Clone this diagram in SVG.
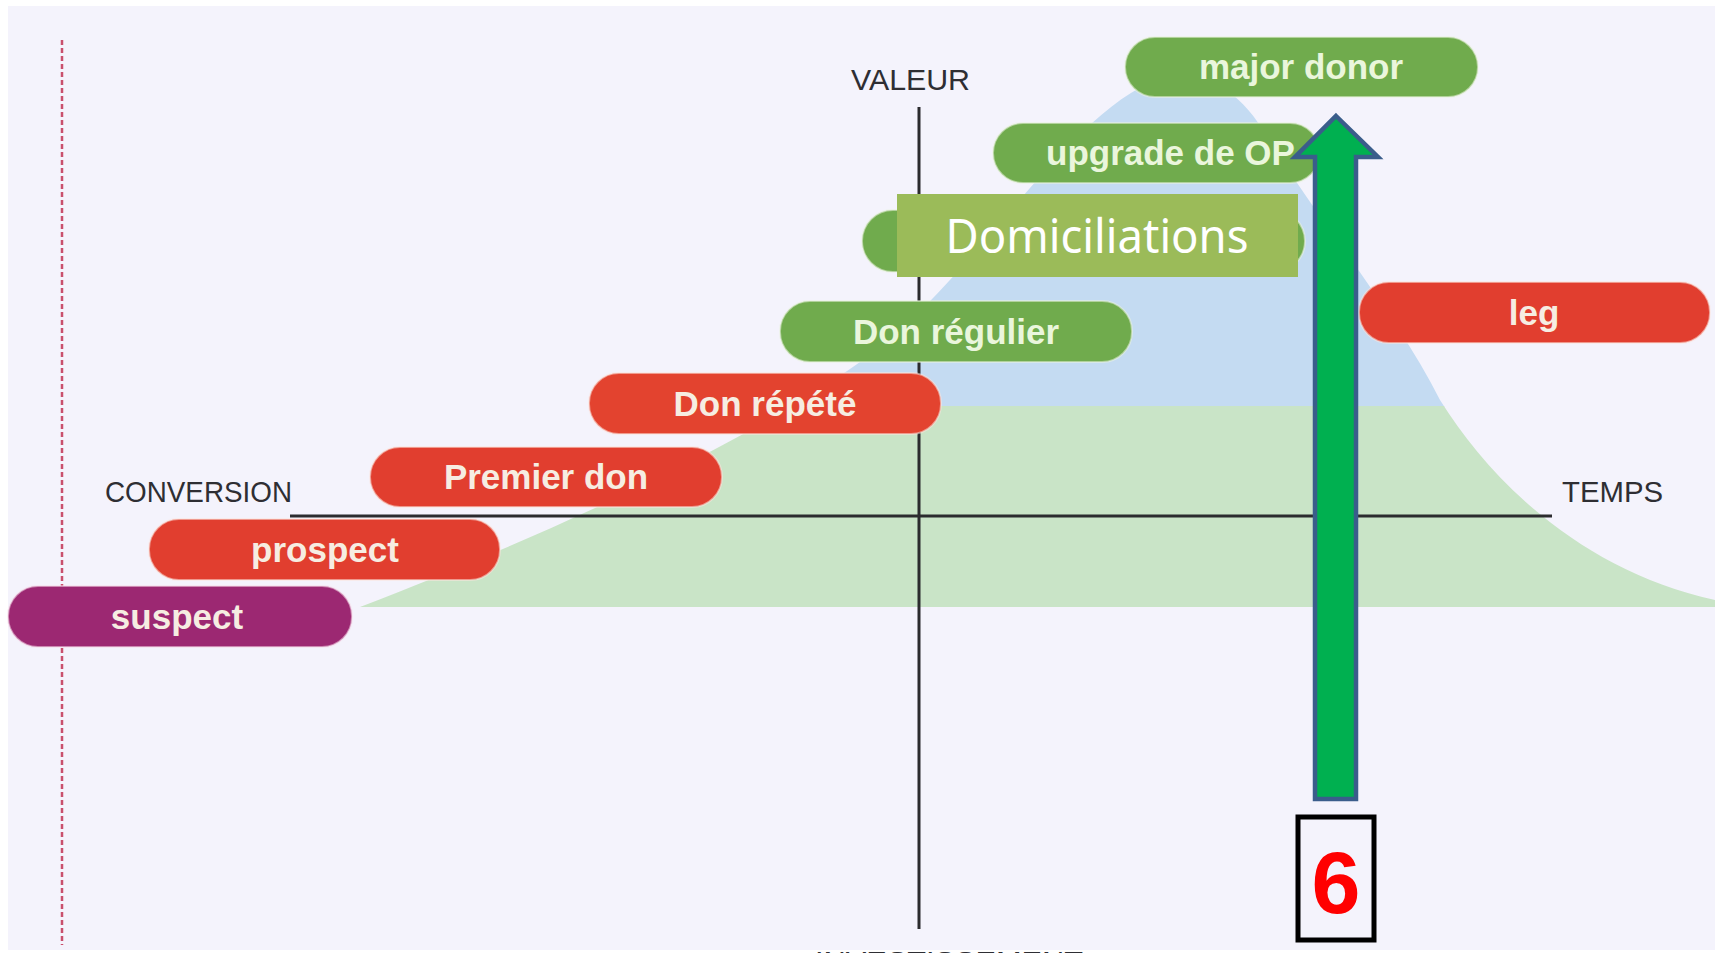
<svg xmlns="http://www.w3.org/2000/svg" width="1715" height="953" viewBox="0 0 1715 953">
  <defs>
    <style>
      .axis { stroke: #2b2b2e; stroke-width: 3; fill: none; }
      .axlbl { font-family: "Liberation Sans", Arial, sans-serif; font-size: 30px; fill: #2e2e33; }
      .pill-g { fill: #70ab4d; stroke: #e9f3df; stroke-opacity: 0.55; stroke-width: 2; }
      .pill-r { fill: #e13e2f; stroke: #fbe3dc; stroke-opacity: 0.55; stroke-width: 2; }
      .pill-p { fill: #9c2872; stroke: #f5dde9; stroke-opacity: 0.55; stroke-width: 2; }
      .ptxt { font-family: "Liberation Sans", Arial, sans-serif; font-size: 35px; font-weight: bold; fill: #f6ede2; text-anchor: middle; }
      .ptxt-g { fill: #eaf6dc; }
    </style>
    <clipPath id="mount">
      <path d="M 360 607 C 560 530, 800 420, 900 330 C 1000 240, 1080 100, 1170 75 C 1225 75, 1250 105, 1275 150 C 1330 235, 1400 320, 1440 400 C 1490 480, 1580 570, 1715 600 L 1715 607 Z"/>
    </clipPath>
  </defs>

  <!-- background -->
  <rect x="0" y="0" width="1715" height="953" fill="#ffffff"/>
  <rect x="8" y="6" width="1707" height="944" fill="#f4f3fc"/>

  <!-- mountain (value curve) -->
  <g id="mountain" clip-path="url(#mount)">
    <rect x="300" y="60" width="1415" height="347" fill="#c4dbf2"/>
    <rect x="300" y="406" width="1415" height="201" fill="#c9e4c7"/>
  </g>

  <!-- red dashed boundary -->
  <line x1="62" y1="40" x2="62" y2="945" stroke="#c9506d" stroke-width="2.5" stroke-dasharray="5 3"/>

  <!-- axes -->
  <g id="axes">
    <line class="axis" x1="919" y1="107" x2="919" y2="929"/>
    <line class="axis" x1="290" y1="516" x2="1552" y2="516"/>
    <text class="axlbl" x="851" y="90" textLength="119" lengthAdjust="spacingAndGlyphs">VALEUR</text>
    <text class="axlbl" x="105" y="502" textLength="187" lengthAdjust="spacingAndGlyphs">CONVERSION</text>
    <text class="axlbl" x="1562" y="502" textLength="101" lengthAdjust="spacingAndGlyphs">TEMPS</text>
    <text class="axlbl" x="815" y="972" textLength="268" lengthAdjust="spacingAndGlyphs">INVESTISSEMENT</text>
  </g>

  <!-- nodes -->
  <g id="node-suspect">
    <rect class="pill-p" x="8" y="586" width="344" height="61" rx="30"/>
    <text class="ptxt" x="177" y="629">suspect</text>
  </g>
  <g id="node-prospect">
    <rect class="pill-r" x="149" y="519" width="351" height="61" rx="30"/>
    <text class="ptxt" x="325" y="562">prospect</text>
  </g>
  <g id="node-premier-don">
    <rect class="pill-r" x="370" y="447" width="352" height="60" rx="30"/>
    <text class="ptxt" x="546" y="489">Premier don</text>
  </g>
  <g id="node-don-repete">
    <rect class="pill-r" x="589" y="373" width="352" height="61" rx="30" style="fill:#e3432f"/>
    <text class="ptxt" x="765" y="416">Don répété</text>
  </g>
  <g id="node-don-regulier">
    <rect class="pill-g" x="780" y="301" width="352" height="61" rx="30"/>
    <text class="ptxt ptxt-g" x="956" y="344">Don régulier</text>
  </g>
  <g id="node-hidden">
    <rect class="pill-g" x="862" y="210" width="443" height="62" rx="31"/>
  </g>
  <g id="node-upgrade">
    <rect class="pill-g" x="993" y="123" width="327" height="60" rx="30"/>
    <text class="ptxt ptxt-g" x="1046" y="165" style="text-anchor:start">upgrade de OP</text>
  </g>
  <g id="node-major-donor">
    <rect class="pill-g" x="1125" y="37" width="353" height="60" rx="30"/>
    <text class="ptxt ptxt-g" x="1301" y="79">major donor</text>
  </g>
  <g id="node-leg">
    <rect class="pill-r" x="1359" y="282" width="351" height="61" rx="30"/>
    <text class="ptxt" x="1534" y="325">leg</text>
  </g>
  <g id="node-domiciliations">
    <rect x="897" y="194" width="401" height="83" fill="#9bbb59"/>
    <text x="1097" y="253" font-family="'Noto Sans', 'Open Sans', sans-serif" font-size="48" fill="#ffffff" text-anchor="middle" textLength="303" lengthAdjust="spacingAndGlyphs">Domiciliations</text>
  </g>

  <!-- connectors -->
  <g id="connectors">
    <path d="M 1336 116 L 1378 157 L 1356 157 L 1356 799 L 1315 799 L 1315 157 L 1295 157 Z" fill="#00b050" stroke="#3a5d8b" stroke-width="4.5" stroke-linejoin="miter"/>
  </g>

  <!-- step label -->
  <g id="node-step">
    <rect x="1298" y="817" width="76" height="123" fill="none" stroke="#000000" stroke-width="5"/>
    <text x="1336" y="913" font-family="'Liberation Sans', Arial, sans-serif" font-size="88" font-weight="bold" fill="#ff0000" text-anchor="middle">6</text>
  </g>
</svg>
